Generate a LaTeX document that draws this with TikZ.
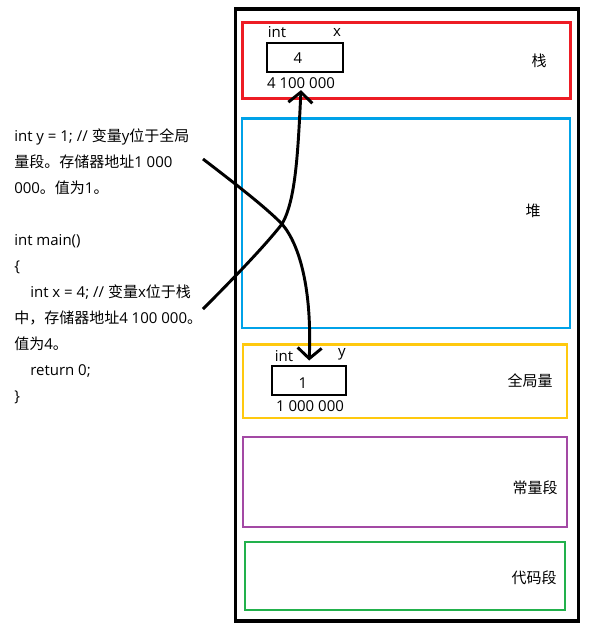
\documentclass[tikz,border=0pt]{standalone}
\usepackage{fontspec}
\setmainfont{Open Sans}
\newfontfamily\cjk{Noto Sans CJK SC}
\usetikzlibrary{arrows.meta}
\definecolor{stackred}{RGB}{237,28,36}
\definecolor{heapblue}{RGB}{0,162,232}
\definecolor{globalyellow}{RGB}{255,201,14}
\definecolor{constpurple}{RGB}{163,73,164}
\definecolor{codegreen}{RGB}{34,177,76}
\tikzstyle{memframe} = [rectangle, draw=black, line width=2.6pt, inner sep=0pt]
\tikzstyle{region} = [rectangle, line width=2.2pt, inner sep=0pt]
\tikzstyle{cell} = [rectangle, draw=black, line width=2.2pt, inner sep=0pt]
\tikzstyle{txt} = [inner sep=1pt, font=\fontsize{11.25pt}{19.5pt}\selectfont]
\tikzstyle{arrow} = [line width=2.2pt, -{Straight Barb[length=8pt, width=18pt]}]

\begin{document}
\begin{tikzpicture}[x=0.75pt, y=-0.75pt]

    \useasboundingbox (0,0) rectangle (589,629);

    % Memory
    \node (mem) [memframe, minimum width=257.25pt, minimum height=459pt] at (407,315) {};
    \node (stack) [region, draw=stackred, minimum width=246pt, minimum height=56.7pt] at (406.7,60.5) {};
    \node (heap) [region, draw=heapblue, minimum width=246pt, minimum height=157pt] at (406,223.3) {};
    \node (global) [region, draw=globalyellow, minimum width=243pt, minimum height=55pt] at (405,381.3) {};
    \node (const) [region, draw=constpurple, minimum width=243pt, minimum height=67.5pt] at (405,482) {};
    \node (code) [region, draw=codegreen, minimum width=240pt, minimum height=51pt] at (405,576) {};

    % Region names
    \node (stackname) [txt] at (539,61) {\cjk 栈};
    \node (heapname) [txt] at (533,211) {\cjk 堆};
    \node (globalname) [txt] at (530,381) {\cjk 全局量};
    \node (constname) [txt] at (535,488) {\cjk 常量段};
    \node (codename) [txt] at (534,578) {\cjk 代码段};

    % Variable x
    \node (boxx) [cell, minimum width=57pt, minimum height=21.75pt] at (305,57.5) {};
    \node (valx) [txt] at (298,58) {4};
    \node (typex) [txt] at (277,32) {int};
    \node (namex) [txt] at (337,32) {x};
    \node (addrx) [txt] at (301,83) {4 100 000};

    % Variable y
    \node (boxy) [cell, minimum width=55.5pt, minimum height=21.75pt] at (309,380.5) {};
    \node (valy) [txt] at (303,383) {1};
    \node (typey) [txt] at (284,356) {int};
    \node (namey) [txt] at (342,354) {y};
    \node (addry) [txt] at (310,406) {1 000 000};

    % Source code
    \node (src) [txt, inner sep=0pt, anchor=north west, align=left] at (14,128) {int y = 1; // {\cjk 变量}y{\cjk 位于全局}\\
        {\cjk 量段。存储器地址}1 000\\
        000{\cjk 。值为}1{\cjk 。}\\[19.5pt]
        int main()\\
        \{\\
        \hspace*{12pt}int x = 4; // {\cjk 变量}x{\cjk 位于栈}\\
        {\cjk 中，存储器地址}4 100 000{\cjk 。}\\
        {\cjk 值为}4{\cjk 。}\\
        \hspace*{12pt}return 0;\\
        \}};

    % Arrows
    \coordinate (ystart) at (203,159);
    \coordinate (xstart) at (203,309);
    \coordinate (cross) at (282,224);
    \draw [arrow, shorten >=3pt] (ystart) .. controls (250,195) and (268,210) .. (cross) .. controls (300,245) and (312,290) .. (boxy.north);
    \draw [arrow] (xstart) .. controls (240,272) and (268,242) .. (cross) .. controls (296,200) and (298,150) .. (addrx.south);

\end{tikzpicture}
\end{document}
